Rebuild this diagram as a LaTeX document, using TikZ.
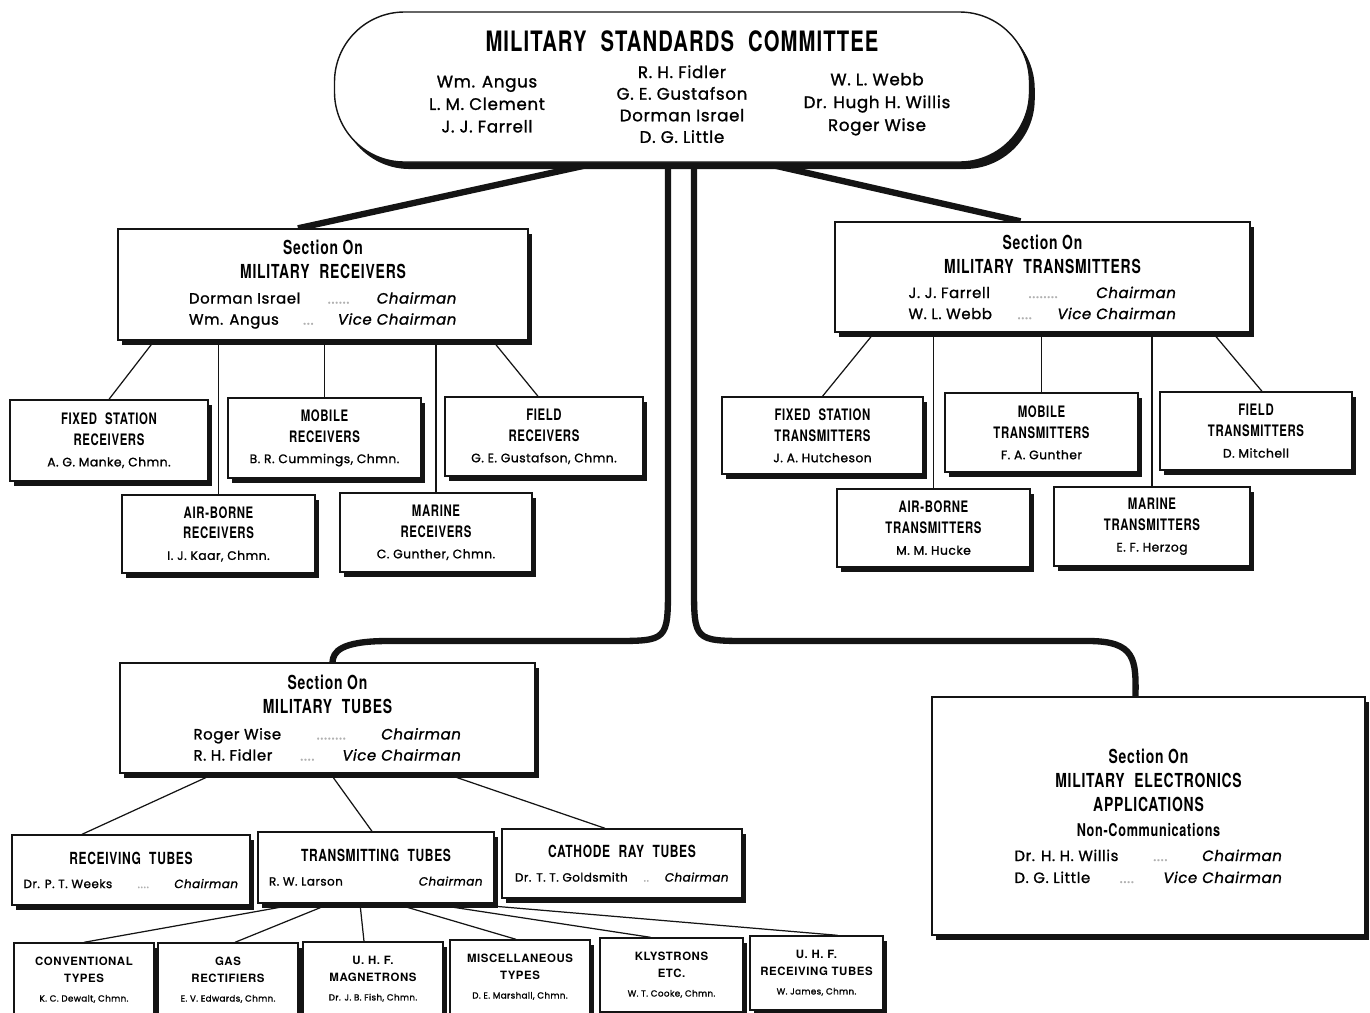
\documentclass[tikz,border=0pt]{standalone}
\usepackage{fontspec}
\usepackage{tikz}
\usetikzlibrary{calc,positioning,shadows,backgrounds}
\newfontfamily\condf[FakeStretch=0.72,LetterSpace=4]{TeX Gyre Heros}
\newfontfamily\widef[LetterSpace=5]{TeX Gyre Heros}
\newfontfamily\namef[LetterSpace=4,FakeBold=1.2]{Poppins}
\definecolor{InkBlack}{HTML}{141414}
\definecolor{DotGray}{HTML}{B0B0B0}
\newdimen\pxu \pxu=0.02cm
% faces for titles and names
\newcommand{\hd}[1]{\condf\bfseries\fontsize{#1}{#1}\selectfont}
\newcommand{\wdf}[1]{\widef\bfseries\fontsize{#1}{#1}\selectfont}
\newcommand{\post}[4]{\makebox[#1\pxu]{#2\hfill\textcolor{DotGray}{#3}\hfill\textit{#4}}}

\begin{document}
\begin{tikzpicture}[x=0.02cm,y=-0.02cm,
  box/.style={draw=InkBlack,fill=white,line width=0.8pt,inner sep=0pt,align=center,
    drop shadow={shadow xshift=2.2pt,shadow yshift=-2.6pt,fill=InkBlack,opacity=1}},
  sz/.style 2 args={minimum width=#1*0.02cm,minimum height=#2*0.02cm},
  sec/.style={box,font=\namef\fontsize{8.5}{12}\selectfont},
  sub/.style={box,font=\namef\fontsize{7}{11.9}\selectfont},
  tsub/.style={box,font=\namef\fontsize{6.8}{13.6}\selectfont},
  bsub/.style={box,font=\namef\fontsize{5}{9.6}\selectfont},
  trunk/.style={draw=InkBlack,line width=3.6pt},
  twig/.style={draw=InkBlack,line width=0.7pt}]
  \path[use as bounding box] (0,0) rectangle (1370,1012);

  % committee
  \node[box,sz={695}{150},rounded corners=1.4cm,font=\namef\fontsize{9.5}{12}\selectfont,
    drop shadow={shadow xshift=3pt,shadow yshift=-4pt,fill=InkBlack,opacity=1}] (cmt) at (682,87)
    {{\hd{16}MILITARY\enspace STANDARDS\enspace COMMITTEE}\\[6.5pt]
     \parbox[c]{111pt}{\centering\baselineskip=12.8pt Wm. Angus\\L. M. Clement\\J. J. Farrell}%
     \parbox[c]{111pt}{\centering\baselineskip=12.3pt R. H. Fidler\\G. E. Gustafson\\Dorman Israel\\D. G. Little}%
     \parbox[c]{111pt}{\centering\baselineskip=13pt W. L. Webb\\Dr. Hugh H. Willis\\Roger Wise}};

  % receivers
  \node[sec,sz={410}{111}] (rcv) at (323,284.5)
    {{\hd{11}Section On}\\[1.6pt]{\hd{11}MILITARY\enspace RECEIVERS}\\[2.2pt]
     \post{268}{Dorman Israel}{......}{Chairman}\\
     \post{268}{Wm. Angus}{...}{Vice Chairman}};
  \node[sub,sz={198}{81}] (rcvfix) at (109,440.5) {{\hd{9}FIXED\enspace STATION}\\{\hd{9}RECEIVERS}\\A. G. Manke, Chmn.};
  \node[sub,sz={193}{80}] (rcvmob) at (324.5,438) {{\hd{9}MOBILE}\\{\hd{9}RECEIVERS}\\B. R. Cummings, Chmn.};
  \node[sub,sz={198}{79}] (rcvfld) at (544,436.5) {{\hd{9}FIELD}\\{\hd{9}RECEIVERS}\\G. E. Gustafson, Chmn.};
  \node[sub,sz={193}{78}] (rcvair) at (218.5,534) {{\hd{9}AIR-BORNE}\\{\hd{9}RECEIVERS}\\I. J. Kaar, Chmn.};
  \node[sub,sz={192}{79}] (rcvmar) at (436,532.5) {{\hd{9}MARINE}\\{\hd{9}RECEIVERS}\\C. Gunther, Chmn.};

  % transmitters
  \node[sec,sz={415}{110}] (trn) at (1042.5,277)
    {{\hd{11}Section On}\\[1.6pt]{\hd{11}MILITARY\enspace TRANSMITTERS}\\[2.2pt]
     \post{268}{J. J. Farrell}{........}{Chairman}\\
     \post{268}{W. L. Webb}{....}{Vice Chairman}};
  \node[sub,sz={201}{77}] (trnfix) at (822.5,435.5) {{\hd{9}FIXED\enspace STATION}\\{\hd{9}TRANSMITTERS}\\J. A. Hutcheson};
  \node[sub,sz={193}{79}] (trnmob) at (1041.5,432.5) {{\hd{9}MOBILE}\\{\hd{9}TRANSMITTERS}\\F. A. Gunther};
  \node[sub,sz={192}{78}] (trnfld) at (1256,431) {{\hd{9}FIELD}\\{\hd{9}TRANSMITTERS}\\D. Mitchell};
  \node[sub,sz={193}{78}] (trnair) at (933.5,528) {{\hd{9}AIR-BORNE}\\{\hd{9}TRANSMITTERS}\\M. M. Hucke};
  \node[sub,sz={196}{79}] (trnmar) at (1152,526.5) {{\hd{9}MARINE}\\{\hd{9}TRANSMITTERS}\\E. F. Herzog};

  % tubes
  \node[sec,sz={415}{110}] (tub) at (327.5,718)
    {{\hd{11}Section On}\\[1.6pt]{\hd{11}MILITARY\enspace TUBES}\\[2.7pt]
     \post{268}{Roger Wise}{........}{Chairman}\\
     \post{268}{R. H. Fidler}{....}{Vice Chairman}};
  \node[tsub,sz={238}{70}] (tubrcv) at (131,870) {{\hd{9.5}RECEIVING\enspace TUBES}\\\post{215}{Dr. P. T. Weeks}{....}{Chairman}};
  \node[tsub,sz={236}{71}] (tubtrn) at (376,867.5) {{\hd{9.5}TRANSMITTING\enspace TUBES}\\\post{214}{R. W. Larson}{}{Chairman}};
  \node[tsub,sz={240}{69}] (tubcrt) at (622,863.5) {{\hd{9.5}CATHODE\enspace RAY\enspace TUBES}\\\post{214}{Dr. T. T. Goldsmith}{..}{Chairman}};
  \node[bsub,sz={140}{74}] (tubcon) at (84,980) {{\wdf{6.5}CONVENTIONAL}\\{\wdf{6.5}TYPES}\\[1.2pt]K. C. Dewalt, Chmn.};
  \node[bsub,sz={140}{74}] (tubgas) at (228,980) {{\wdf{6.5}GAS}\\{\wdf{6.5}RECTIFIERS}\\[1.2pt]E. V. Edwards, Chmn.};
  \node[bsub,sz={140}{74}] (tubmag) at (373,979) {{\wdf{6.5}U. H. F.}\\{\wdf{6.5}MAGNETRONS}\\[1.2pt]Dr. J. B. Fish, Chmn.};
  \node[bsub,sz={140}{74}] (tubmsc) at (520,977) {{\wdf{6.5}MISCELLANEOUS}\\{\wdf{6.5}TYPES}\\[1.2pt]D. E. Marshall, Chmn.};
  \node[bsub,sz={143}{74}] (tubkly) at (671.5,975) {{\wdf{6.5}KLYSTRONS}\\{\wdf{6.5}ETC.}\\[1.2pt]W. T. Cooke, Chmn.};
  \node[bsub,sz={133}{74}] (tubuhf) at (816.5,973) {{\wdf{6.5}U. H. F.}\\{\wdf{6.5}RECEIVING TUBES}\\[1.2pt]W. James, Chmn.};

  % electronics
  \node[sec,sz={433}{238},font=\namef\fontsize{8.5}{13.6}\selectfont] (elc) at (1148.5,816)
    {{\hd{11}Section On}\\{\hd{11}MILITARY\enspace ELECTRONICS}\\{\hd{11}APPLICATIONS}\\[0.6pt]
     {\hd{10}Non-Communications}\\[0.6pt]
     \post{268}{Dr. H. H. Willis}{....}{Chairman}\\[-1.1pt]
     \post{268}{D. G. Little}{....}{Vice Chairman}};

  \begin{scope}[on background layer]
    \draw[trunk] ($(cmt.south)+(-84,0)$) -- ($(rcv.north)+(-25,0)$);
    \draw[trunk] ($(cmt.south)+(80,0)$) -- ($(trn.north)+(-22,0)$);
    \draw[trunk] ($(cmt.south)+(-14,0)$) -- (668,585) .. controls (668,641) .. (612,641)
      -- (388,641) .. controls (340,641) and (333,652) .. ($(tub.north)+(5,0)$);
    \draw[trunk] ($(cmt.south)+(12,0)$) -- (694,585) .. controls (694,641) .. (750,641)
      -- (1088,641) .. controls (1136,641) and (1136,660) .. ($(elc.north)+(-13,0)$);

    \draw[twig] ($(rcv.south west)+(37,0)$) -- (rcvfix.north);
    \draw[twig] (rcvair.north |- rcv.south) -- (rcvair.north);
    \draw[twig] (rcvmob.north |- rcv.south) -- (rcvmob.north);
    \draw[twig] (rcvmar.north |- rcv.south) -- (rcvmar.north);
    \draw[twig] ($(rcv.south east)+(-36,0)$) -- ($(rcvfld.north)+(-6,0)$);

    \draw[twig] ($(trn.south west)+(40,0)$) -- (trnfix.north);
    \draw[twig] (trnair.north |- trn.south) -- (trnair.north);
    \draw[twig] (trnmob.north |- trn.south) -- (trnmob.north);
    \draw[twig] (trnmar.north |- trn.south) -- (trnmar.north);
    \draw[twig] ($(trn.south east)+(-38,0)$) -- ($(trnfld.north)+(6,0)$);

    \draw[twig] ($(tub.south west)+(95,0)$) -- ($(tubrcv.north)+(-49,0)$);
    \draw[twig] ($(tub.south)+(3,0)$) -- ($(tubtrn.north)+(-4,0)$);
    \draw[twig] ($(tub.south east)+(-90,0)$) -- ($(tubcrt.north)+(-17,0)$);

    \draw[twig] ($(tubtrn.south)+(-76,0)$) -- (tubcon.north);
    \draw[twig] ($(tubtrn.south)+(-46,0)$) -- ($(tubgas.north)+(7,0)$);
    \draw[twig] ($(tubtrn.south)+(-16,0)$) -- ($(tubmag.north)+(-9,0)$);
    \draw[twig] ($(tubtrn.south)+(19,0)$) -- ($(tubmsc.north)+(-4,0)$);
    \draw[twig] ($(tubtrn.south)+(54,0)$) -- ($(tubkly.north)+(-21,0)$);
    \draw[twig] ($(tubtrn.south)+(89,0)$) -- ($(tubuhf.north)+(21,0)$);
  \end{scope}
\end{tikzpicture}
\end{document}
